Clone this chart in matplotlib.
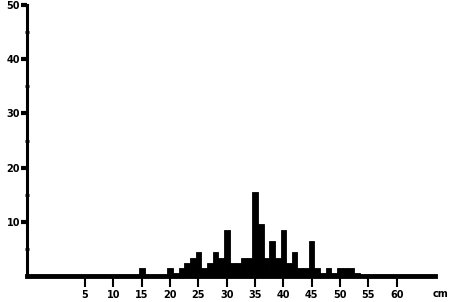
import matplotlib
matplotlib.use("Agg")
import matplotlib.pyplot as plt

# bin centres (cm) and counts
sizes = [15, 20, 21, 22, 23, 24, 25, 26, 27, 28, 29, 30, 31, 32, 33, 34,
         35, 36, 37, 38, 39, 40, 41, 42, 43, 44, 45, 46, 47, 48, 49, 50,
         51, 52, 53]
counts = [1.5, 1.5, 0.6, 1.5, 2.4, 3.4, 4.5, 1.5, 2.4, 4.5, 3.4, 8.5, 2.4,
          2.4, 3.4, 3.4, 15.5, 9.6, 3.4, 6.5, 3.4, 8.5, 2.4, 4.5, 1.5, 1.5,
          6.5, 1.5, 0.6, 1.5, 0.6, 1.5, 1.5, 1.5, 0.6]

x_ticks = [5, 10, 15, 20, 25, 30, 35, 40, 45, 50, 55, 60]
y_ticks = [10, 20, 30, 40, 50]
y_minor = [5, 15, 25, 35, 45]

fig = plt.figure(figsize=(4.5, 3.02), dpi=100)
ax = fig.add_axes([0.06, 0.086, 0.907, 0.897])

ax.bar(sizes, counts, width=1.0, color="black", edgecolor="black", linewidth=0.6)

ax.set_xlim(-5.25, 66.8)
ax.set_ylim(0, 50)

ax.spines["top"].set_visible(False)
ax.spines["right"].set_visible(False)
ax.spines["left"].set_linewidth(2.2)
ax.spines["bottom"].set_linewidth(3.5)

ax.set_xticks(x_ticks)
ax.set_xticklabels([str(v) for v in x_ticks])
ax.set_yticks(y_ticks)
ax.set_yticklabels([str(v) for v in y_ticks])
ax.set_yticks(y_minor, minor=True)

ax.tick_params(axis="x", direction="out", length=8, width=1.5, pad=2,
               labelsize=7)
ax.tick_params(axis="y", which="major", direction="out", length=4, width=3,
               pad=1, labelsize=7)
ax.tick_params(axis="y", which="minor", direction="inout", length=3, width=2)
for lbl in ax.get_xticklabels() + ax.get_yticklabels():
    lbl.set_fontweight("bold")

ax.text(67.7, -3.4, "cm", fontsize=7, fontweight="bold",
        ha="center", va="center", clip_on=False)

fig.savefig("out.png", dpi=100)
